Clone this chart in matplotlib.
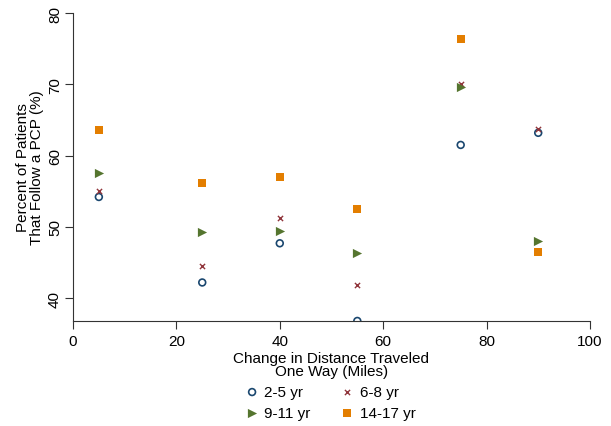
import matplotlib
matplotlib.use("Agg")
import matplotlib.pyplot as plt

# distancia (millas) y porcentaje por grupo de edad
distance = [5, 25, 40, 55, 75, 90]
age_2_5 = [54.2, 42.2, 47.7, 36.8, 61.5, 63.2]
age_6_8 = [55.0, 44.5, 51.3, 41.8, 70.0, 63.8]
age_9_11 = [57.6, 49.3, 49.4, 46.4, 69.6, 48.0]
age_14_17 = [63.6, 56.1, 57.0, 52.5, 76.3, 46.5]

plt.rcParams['font.family'] = ['Liberation Sans', 'DejaVu Sans']

fig = plt.figure(figsize=(6.11, 4.27), dpi=100)
ax = fig.add_axes([0.1195, 0.246, 0.846, 0.721])

h1 = ax.scatter(distance, age_2_5, marker='o', facecolors='none', edgecolors='#1a476f',
                s=24, linewidths=1.2, label='2-5 yr')
h2 = ax.scatter(distance, age_6_8, marker='x', color='#90353b', s=14, linewidths=1.0,
                label='6-8 yr')
h3 = ax.scatter(distance, age_9_11, marker='>', color='#55752f', s=44, linewidths=0,
                label='9-11 yr')
h4 = ax.scatter(distance, age_14_17, marker='s', color='#e37e00', s=40, linewidths=0,
                label='14-17 yr')

ax.set_xlim(0, 100)
ax.set_ylim(36.8, 80)
ax.set_xticks([0, 20, 40, 60, 80, 100])
ax.set_yticks([40, 50, 60, 70, 80])
for lbl in ax.get_yticklabels():
    lbl.set_rotation(90)
    lbl.set_va('center')
ax.tick_params(labelsize=11, length=6, color='#333333')
ax.tick_params(axis='y', pad=2)
ax.spines['top'].set_visible(False)
ax.spines['right'].set_visible(False)
ax.spines['left'].set_color('#333333')
ax.spines['bottom'].set_color('#333333')

ax.set_xlabel('Change in Distance Traveled\nOne Way (Miles)', fontsize=11,
              linespacing=0.95, labelpad=2)
ax.set_ylabel('Percent of Patients\nThat Follow a PCP (%)', fontsize=11,
              linespacing=0.95, labelpad=3)

# orden por filas como en el original
fig.legend([h1, h3, h2, h4], ['2-5 yr', '9-11 yr', '6-8 yr', '14-17 yr'],
           loc='lower center', bbox_to_anchor=(0.54, -0.018), ncol=2, frameon=False,
           fontsize=11, handletextpad=0.3, columnspacing=1.9, labelspacing=0.45,
           handlelength=1.0)

fig.savefig('out.png', dpi=100)
